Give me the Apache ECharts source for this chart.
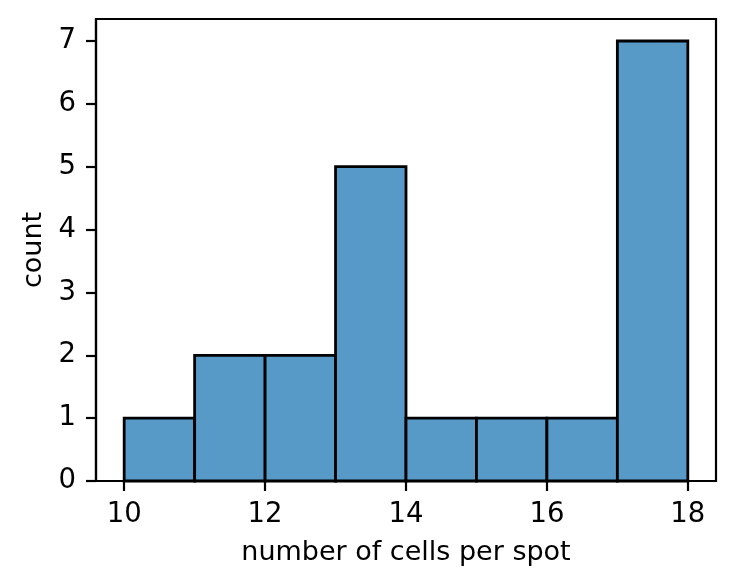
<!DOCTYPE html>
<html>
<head>
<meta charset="utf-8">
<script src="https://cdn.jsdelivr.net/npm/echarts@6/dist/echarts.min.js"></script>
<style>html,body{margin:0;padding:0;background:#fff}#c{width:736px;height:588px}</style>
</head>
<body>
<div id="c"></div>
<script>
const binStarts = [10, 11, 12, 13, 14, 15, 16, 17];
const binEnds = [11, 12, 13, 14, 15, 16, 17, 18];
const counts = [1, 2, 2, 5, 1, 1, 1, 7];
const xTicks = [10, 12, 14, 16, 18];
const yTicks = [0, 1, 2, 3, 4, 5, 6, 7];

const data = binStarts.map((s, i) => [s, binEnds[i], counts[i]]);
const FONT = 'DejaVu Sans';
const chart = echarts.init(document.getElementById('c'), null, {renderer: 'canvas'});
chart.setOption({
  animation: false,
  backgroundColor: '#fff',
  grid: {left: 96, right: 20, top: 19, bottom: 107, show: true, borderColor: '#000', borderWidth: 2.2, backgroundColor: 'transparent', z: 10},
  xAxis: {
    type: 'value', min: 9.6, max: 18.4,
    name: 'number of cells per spot', nameLocation: 'middle', nameGap: 58,
    nameTextStyle: {fontFamily: FONT, fontSize: 27, color: '#000'},
    axisLine: {show: true, onZero: false, lineStyle: {color: '#000', width: 2.2}},
    axisTick: {show: true, length: 10, lineStyle: {color: '#000', width: 2.2}, customValues: xTicks},
    axisLabel: {margin: 20, fontFamily: FONT, fontSize: 27.5, color: '#000', customValues: xTicks, formatter: v => String(v)},
    splitLine: {show: false}
  },
  yAxis: {
    type: 'value', min: 0, max: 7.35,
    name: 'count', nameLocation: 'middle', nameGap: 46,
    nameTextStyle: {fontFamily: FONT, fontSize: 27, color: '#000'},
    axisLine: {show: true, lineStyle: {color: '#000', width: 2.2}},
    axisTick: {show: true, length: 10, lineStyle: {color: '#000', width: 2.2}, customValues: yTicks},
    axisLabel: {margin: 20, fontFamily: FONT, fontSize: 27.5, color: '#000', customValues: yTicks, formatter: v => String(v)},
    splitLine: {show: false}
  },
  series: [{
    type: 'custom',
    data: data,
    encode: {x: [0, 1], y: 2},
    renderItem: function (params, api) {
      const p0 = api.coord([api.value(0), api.value(2)]);
      const p1 = api.coord([api.value(1), 0]);
      return {
        type: 'rect',
        shape: {x: p0[0], y: p0[1], width: p1[0] - p0[0], height: p1[1] - p0[1]},
        style: {fill: '#5799c7', stroke: '#000', lineWidth: 2.8}
      };
    }
  }]
});
</script>
</body>
</html>
